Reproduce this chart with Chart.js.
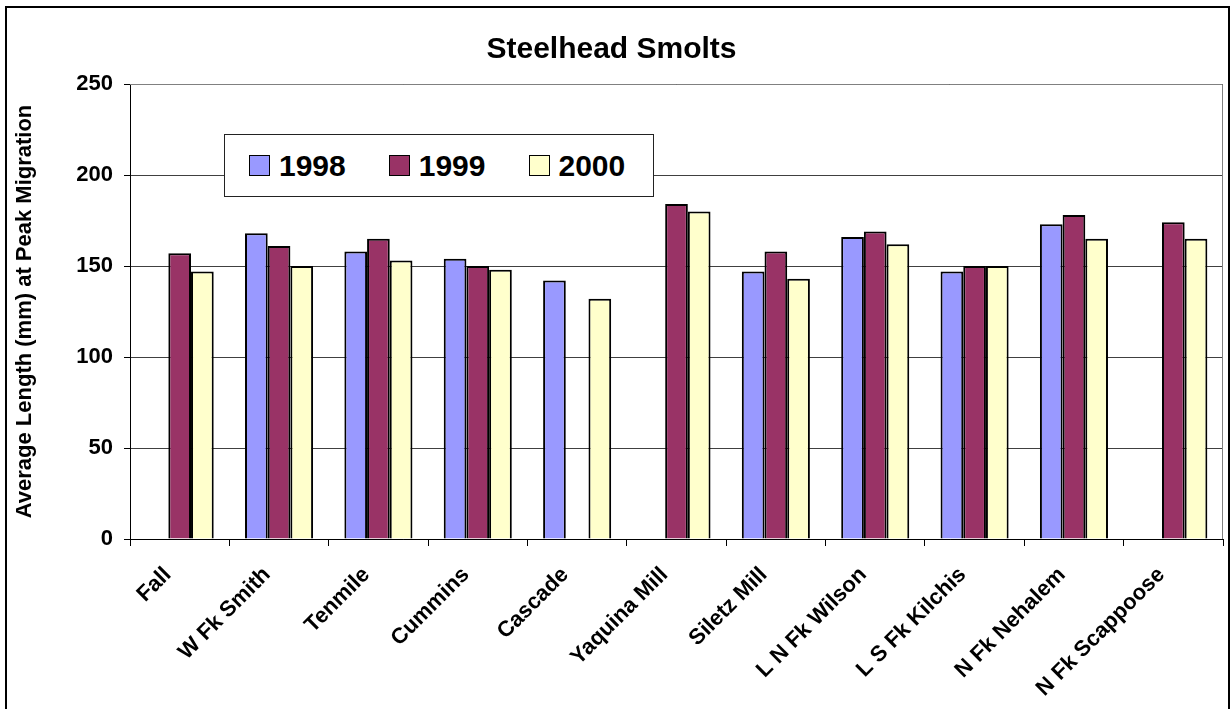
<!DOCTYPE html>
<html>
<head>
<meta charset="utf-8">
<script src="https://cdn.jsdelivr.net/npm/chart.js@4/dist/chart.umd.min.js"></script>
<style>
  body { margin: 0; background: #fff; }
  #wrap { position: relative; width: 1231px; height: 709px; overflow: hidden; }
  #frame { position: absolute; left: 5px; top: 6px; width: 1221px; height: 720px; border: 2px solid #000; pointer-events: none; }
  #legend {
    position: absolute; left: 224px; top: 134px; width: 404px; height: 61px;
    border: 1.5px solid #222; background: #fff;
    display: flex; align-items: center; padding-left: 24px; box-sizing: content-box;
    font: bold 30px "Liberation Sans", Arial, sans-serif; color: #000;
  }
  .item { display: flex; align-items: center; margin-right: 43px; }
  .sw { width: 19px; height: 19px; border: 1.5px solid #000; margin-right: 9px; }
</style>
</head>
<body>
<div id="wrap">
  <canvas id="chart" width="1231" height="709"></canvas>
  <div id="frame"></div>
  <div id="legend"></div>
</div>
<script>
const categories = ["Fall", "W Fk Smith", "Tenmile", "Cummins", "Cascade", "Yaquina Mill",
  "Siletz Mill", "L N Fk Wilson", "L S Fk Kilchis", "N Fk Nehalem", "N Fk Scappoose"];
const y1998 = [null, 168, 158, 154, 142, null, 147, 166, 147, 173, null];
const y1999 = [157, 161, 165, 150, null, 184, 158, 169, 150, 178, 174];
const y2000 = [147, 150, 153, 148, 132, 180, 143, 162, 150, 165, 165];
const seriesNames = ["1998", "1999", "2000"];
const seriesColors = ["#9999FF", "#993366", "#FFFFCC"];
const yTicks = [0, 50, 100, 150, 200, 250];

const font = '"Liberation Sans", Arial, sans-serif';

const plotFrame = {
  id: "plotFrame",
  beforeDatasetsDraw(chart) {
    const a = chart.chartArea, c = chart.ctx;
    c.save();
    c.strokeStyle = "#808080";
    c.lineWidth = 1;
    c.beginPath();
    c.moveTo(a.left, a.top + 0.5);
    c.lineTo(a.right - 0.5, a.top + 0.5);
    c.lineTo(a.right - 0.5, a.bottom);
    c.stroke();
    c.restore();
  }
};

const datasets = [y1998, y1999, y2000].map((d, i) => ({
  label: seriesNames[i],
  data: d,
  backgroundColor: seriesColors[i],
  borderColor: "#000",
  borderWidth: 2,
  categoryPercentage: 0.685,
  barPercentage: 1.0
}));

new Chart(document.getElementById("chart"), {
  type: "bar",
  data: { labels: categories, datasets: datasets },
  plugins: [plotFrame],
  options: {
    responsive: false,
    animation: false,
    layout: { padding: { left: 0, right: 8, top: 0, bottom: 0 } },
    plugins: {
      legend: { display: false },
      tooltip: { enabled: false },
      title: {
        display: true,
        text: "Steelhead Smolts",
        color: "#000",
        font: { family: font, size: 30, weight: "bold", lineHeight: 1.2 },
        padding: { top: 32, bottom: 16 }
      }
    },
    scales: {
      x: {
        grid: { display: true, drawOnChartArea: false, drawTicks: true, tickLength: 7, color: "#000", offset: true },
        border: { display: true, color: "#000", width: 1 },
        ticks: {
          autoSkip: false, maxRotation: 45, minRotation: 45, padding: 16, labelOffset: -12,
          color: "#000", font: { family: font, size: 22, weight: "bold" }
        },
        afterFit(s) { s.height = 170; }
      },
      y: {
        min: 0, max: 250,
        afterBuildTicks(s) { s.ticks = yTicks.map(v => ({ value: v })); },
        grid: { color: "#404040", lineWidth: 1, drawTicks: true, tickLength: 6, tickColor: "#000" },
        border: { display: true, color: "#000", width: 1 },
        ticks: { padding: 11, color: "#000", font: { family: font, size: 22, weight: "bold" } },
        title: {
          display: true,
          text: "Average Length (mm) at Peak Migration",
          color: "#000",
          font: { family: font, size: 22, weight: "bold" },
          padding: { top: 12, bottom: 0 }
        },
        afterFit(s) { s.width = 130; }
      }
    }
  }
});

// legend box placed over the plot area, as in the original
const lg = document.getElementById("legend");
seriesNames.forEach((n, i) => {
  const it = document.createElement("div");
  it.className = "item";
  const sw = document.createElement("div");
  sw.className = "sw";
  sw.style.background = seriesColors[i];
  const tx = document.createElement("span");
  tx.textContent = n;
  it.appendChild(sw);
  it.appendChild(tx);
  lg.appendChild(it);
});
</script>
</body>
</html>
